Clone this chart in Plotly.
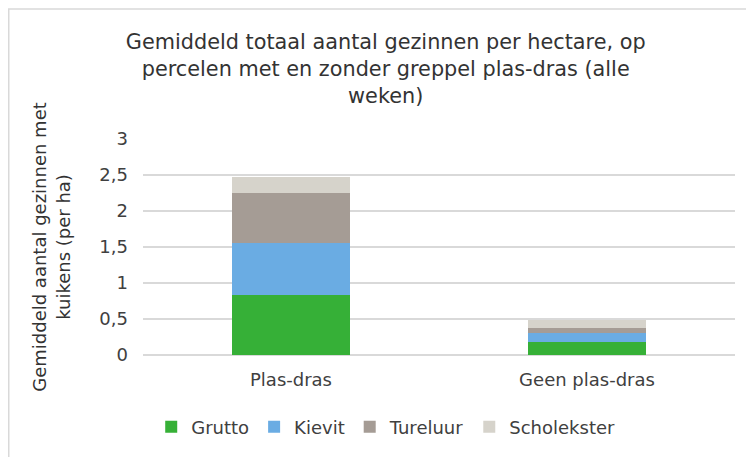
import plotly.graph_objects as go

# categorieën en waarden (gezinnen per ha)
percelen = ['Plas-dras', 'Geen plas-dras']
grutto = [0.83, 0.18]
kievit = [0.73, 0.12]
tureluur = [0.69, 0.08]
scholekster = [0.22, 0.11]

kleuren = {
    'Grutto': '#36B037',
    'Kievit': '#6AACE3',
    'Tureluur': '#A59C95',
    'Scholekster': '#D6D3CB',
}

fig = go.Figure()

for naam, waarden in [('Grutto', grutto), ('Kievit', kievit),
                      ('Tureluur', tureluur), ('Scholekster', scholekster)]:
    fig.add_trace(go.Bar(
        x=percelen,
        y=waarden,
        name=naam,
        marker=dict(color=kleuren[naam], line=dict(width=0)),
        width=0.4,
    ))

# de pagina heeft 8px body-marge, daarom marges gecorrigeerd
fig.update_layout(
    barmode='stack',
    width=754,
    height=457,
    margin=dict(l=135, r=27, t=131, b=110),
    paper_bgcolor='white',
    plot_bgcolor='white',
    separators=',.',
    font=dict(family='DejaVu Sans', size=18, color='#404040'),
    title=dict(
        text='Gemiddeld totaal aantal gezinnen per hectare, op<br>'
             'percelen met en zonder greppel plas-dras (alle<br>weken)',
        font=dict(size=20.8, color='#333333'),
        x=0.41, xref='paper', xanchor='center',
        y=0.91, yanchor='middle',
    ),
    legend=dict(
        orientation='h',
        traceorder='normal',
        x=0.41, xanchor='center',
        y=-0.333, yanchor='middle',
        font=dict(size=18, color='#404040'),
        itemwidth=30,
    ),
    showlegend=True,
)

fig.update_yaxes(
    range=[0, 3],
    dtick=0.5,
    tickformat='.1~f',
    showgrid=True,
    gridcolor='#D9D9D9',
    gridwidth=1.5,
    zeroline=True,
    zerolinecolor='#D9D9D9',
    zerolinewidth=1.5,
    showline=False,
    ticks='',
    ticklabelstandoff=14,
    title=dict(
        text='Gemiddeld aantal gezinnen met<br>kuikens (per ha)',
        font=dict(size=18, color='#333333'),
        standoff=24,
    ),
)

fig.update_xaxes(
    showgrid=False,
    showline=False,
    ticks='',
    ticklabelstandoff=12,
)

# grijze rand rond de grafiek (linker- en bovenkant binnen het figuur)
fig.add_shape(
    type='rect', xref='paper', yref='paper',
    x0=-0.2268, x1=1.1, y0=-0.6, y1=1.602,
    line=dict(color='#D9D9D9', width=1.5),
    fillcolor='rgba(0,0,0,0)',
    layer='above',
)

fig.write_html('out.html')
